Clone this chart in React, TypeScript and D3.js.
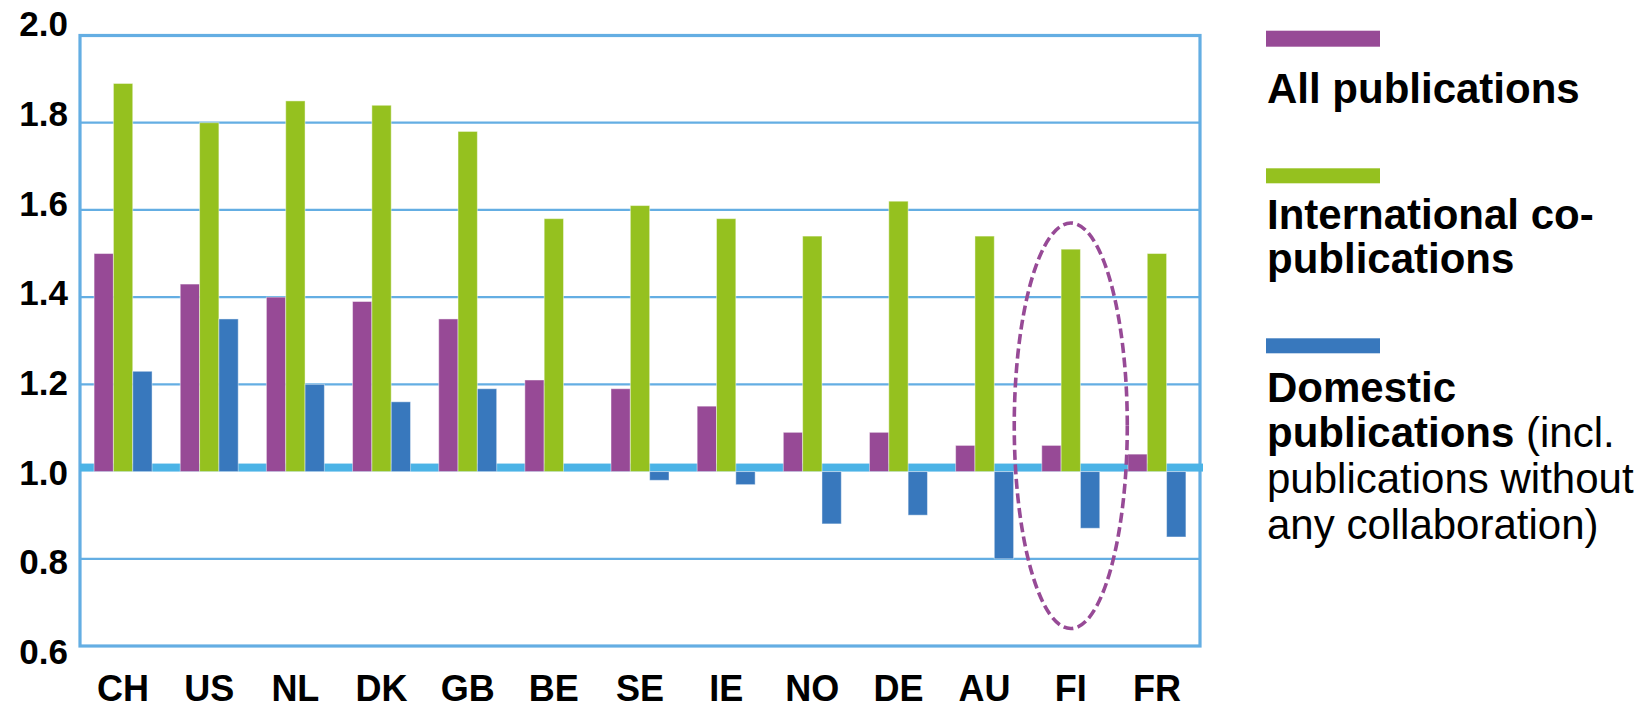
import React from "react";
import * as d3 from "d3";

// Relative citation impact by country, split by collaboration type
const countries = ["CH", "US", "NL", "DK", "GB", "BE", "SE", "IE", "NO", "DE", "AU", "FI", "FR"];
const allPublications = [1.5, 1.43, 1.4, 1.39, 1.35, 1.21, 1.19, 1.15, 1.09, 1.09, 1.06, 1.06, 1.04];
const internationalCoPublications = [1.89, 1.8, 1.85, 1.84, 1.78, 1.58, 1.61, 1.58, 1.54, 1.62, 1.54, 1.51, 1.5];
const domesticPublications = [1.23, 1.35, 1.2, 1.16, 1.19, 1.0, 0.98, 0.97, 0.88, 0.9, 0.8, 0.87, 0.85];
const yTicks = [0.6, 0.8, 1.0, 1.2, 1.4, 1.6, 1.8, 2.0];
const baselineValue = 1.0;

// Country singled out with a dashed ring, and the value span the ring covers
const highlightCountry = "FI";
const highlightTop = 1.57;
const highlightBottom = 0.64;

const seriesKeys = ["all", "intl", "dom"];
const seriesColors: Record<string, string> = {
  all: "#974A96",
  intl: "#95C11F",
  dom: "#3878BD",
};

const W = 1646;
const H = 705;
const plot = { left: 80, right: 1200, top: 35.5, bottom: 646 };
const FONT = "'Liberation Sans', Arial, Helvetica, sans-serif";

export default function App() {
  const x = d3
    .scaleBand<string>()
    .domain(countries)
    .range([plot.left, plot.right])
    .paddingInner(0.327)
    .paddingOuter(0.1635);
  const xs = d3.scaleBand<string>().domain(seriesKeys).range([0, x.bandwidth()]);
  const y = d3.scaleLinear().domain([0.6, 2.0]).range([plot.bottom, plot.top]);
  // tick labels sit on their own slightly wider ladder
  const yLabel = d3.scaleLinear().domain([0.6, 2.0]).range([651.5, 23.7]);

  const rows = countries.map((c, i) => ({
    country: c,
    values: {
      all: allPublications[i],
      intl: internationalCoPublications[i],
      dom: domesticPublications[i],
    } as Record<string, number>,
  }));

  const y1 = y(baselineValue);
  const ringCx = (x(highlightCountry) as number) + x.bandwidth() / 2;
  const ringTop = y(highlightTop);
  const ringBottom = y(highlightBottom);
  const ringRx = x.step() * 0.656;

  const gridColor = "#64AEE3";

  return (
    <svg
      width={W}
      height={H}
      style={{ position: "absolute", left: 0, top: 0, display: "block", background: "#fff" }}
      fontFamily={FONT}
    >
      {/* horizontal gridlines */}
      {yTicks
        .filter((t) => t !== baselineValue)
        .map((t) => (
          <line
            key={`g${t}`}
            x1={plot.left}
            x2={plot.right}
            y1={y(t)}
            y2={y(t)}
            stroke={gridColor}
            strokeWidth={2.2}
          />
        ))}
      {/* plot frame */}
      <rect
        x={plot.left}
        y={plot.top}
        width={plot.right - plot.left}
        height={plot.bottom - plot.top}
        fill="none"
        stroke={gridColor}
        strokeWidth={3.2}
      />
      {/* emphasised reference line at 1.0 */}
      <rect x={plot.left} y={y1 - 8} width={plot.right - plot.left + 3} height={8} fill="#4BB3E6" />

      {/* bars, hanging from the 1.0 reference */}
      {rows.map((r) => (
        <g key={r.country} transform={`translate(${x(r.country)},0)`}>
          {seriesKeys.map((k) => {
            const v = r.values[k];
            if (v === baselineValue) return null;
            const top = Math.min(y(v), y1);
            const h = Math.abs(y(v) - y1);
            return (
              <rect
                key={k}
                x={xs(k)}
                y={top}
                width={xs.bandwidth()}
                height={h}
                fill={seriesColors[k]}
                stroke="rgba(255,255,255,0.45)"
                strokeWidth={1}
              />
            );
          })}
        </g>
      ))}

      {/* dashed ring around the highlighted country */}
      <ellipse
        cx={ringCx}
        cy={(ringTop + ringBottom) / 2}
        rx={ringRx}
        ry={(ringBottom - ringTop) / 2}
        fill="none"
        stroke="#974A96"
        strokeWidth={3.6}
        strokeDasharray="10 4.5"
      />

      {/* y tick labels */}
      {yTicks.map((t) => (
        <text
          key={`yl${t}`}
          x={68}
          y={yLabel(t)}
          dy="0.36em"
          textAnchor="end"
          fontSize={35}
          fontWeight="bold"
          fill="#000"
        >
          {t.toFixed(1)}
        </text>
      ))}

      {/* country labels */}
      {countries.map((c) => (
        <text
          key={`xl${c}`}
          x={(x(c) as number) + x.bandwidth() / 2}
          y={701}
          textAnchor="middle"
          fontSize={36}
          fontWeight="bold"
          fill="#000"
        >
          {c}
        </text>
      ))}

      {/* legend */}
      <g fill="#000" fontSize={42}>
        <rect x={1266} y={30.7} width={114} height={16} fill={seriesColors.all} />
        <text x={1267} y={103} fontWeight="bold">All publications</text>

        <rect x={1266} y={168.3} width={114} height={15} fill={seriesColors.intl} />
        <text x={1267} y={229} fontWeight="bold">International co-</text>
        <text x={1267} y={272.5} fontWeight="bold">publications</text>

        <rect x={1266} y={338.3} width={114} height={15} fill={seriesColors.dom} />
        <text x={1267} y={401.5} fontWeight="bold">Domestic</text>
        <text x={1267} y={447}>
          <tspan fontWeight="bold">publications</tspan> (incl.
        </text>
        <text x={1267} y={492.7}>publications without</text>
        <text x={1267} y={539}>any collaboration)</text>
      </g>
    </svg>
  );
}
